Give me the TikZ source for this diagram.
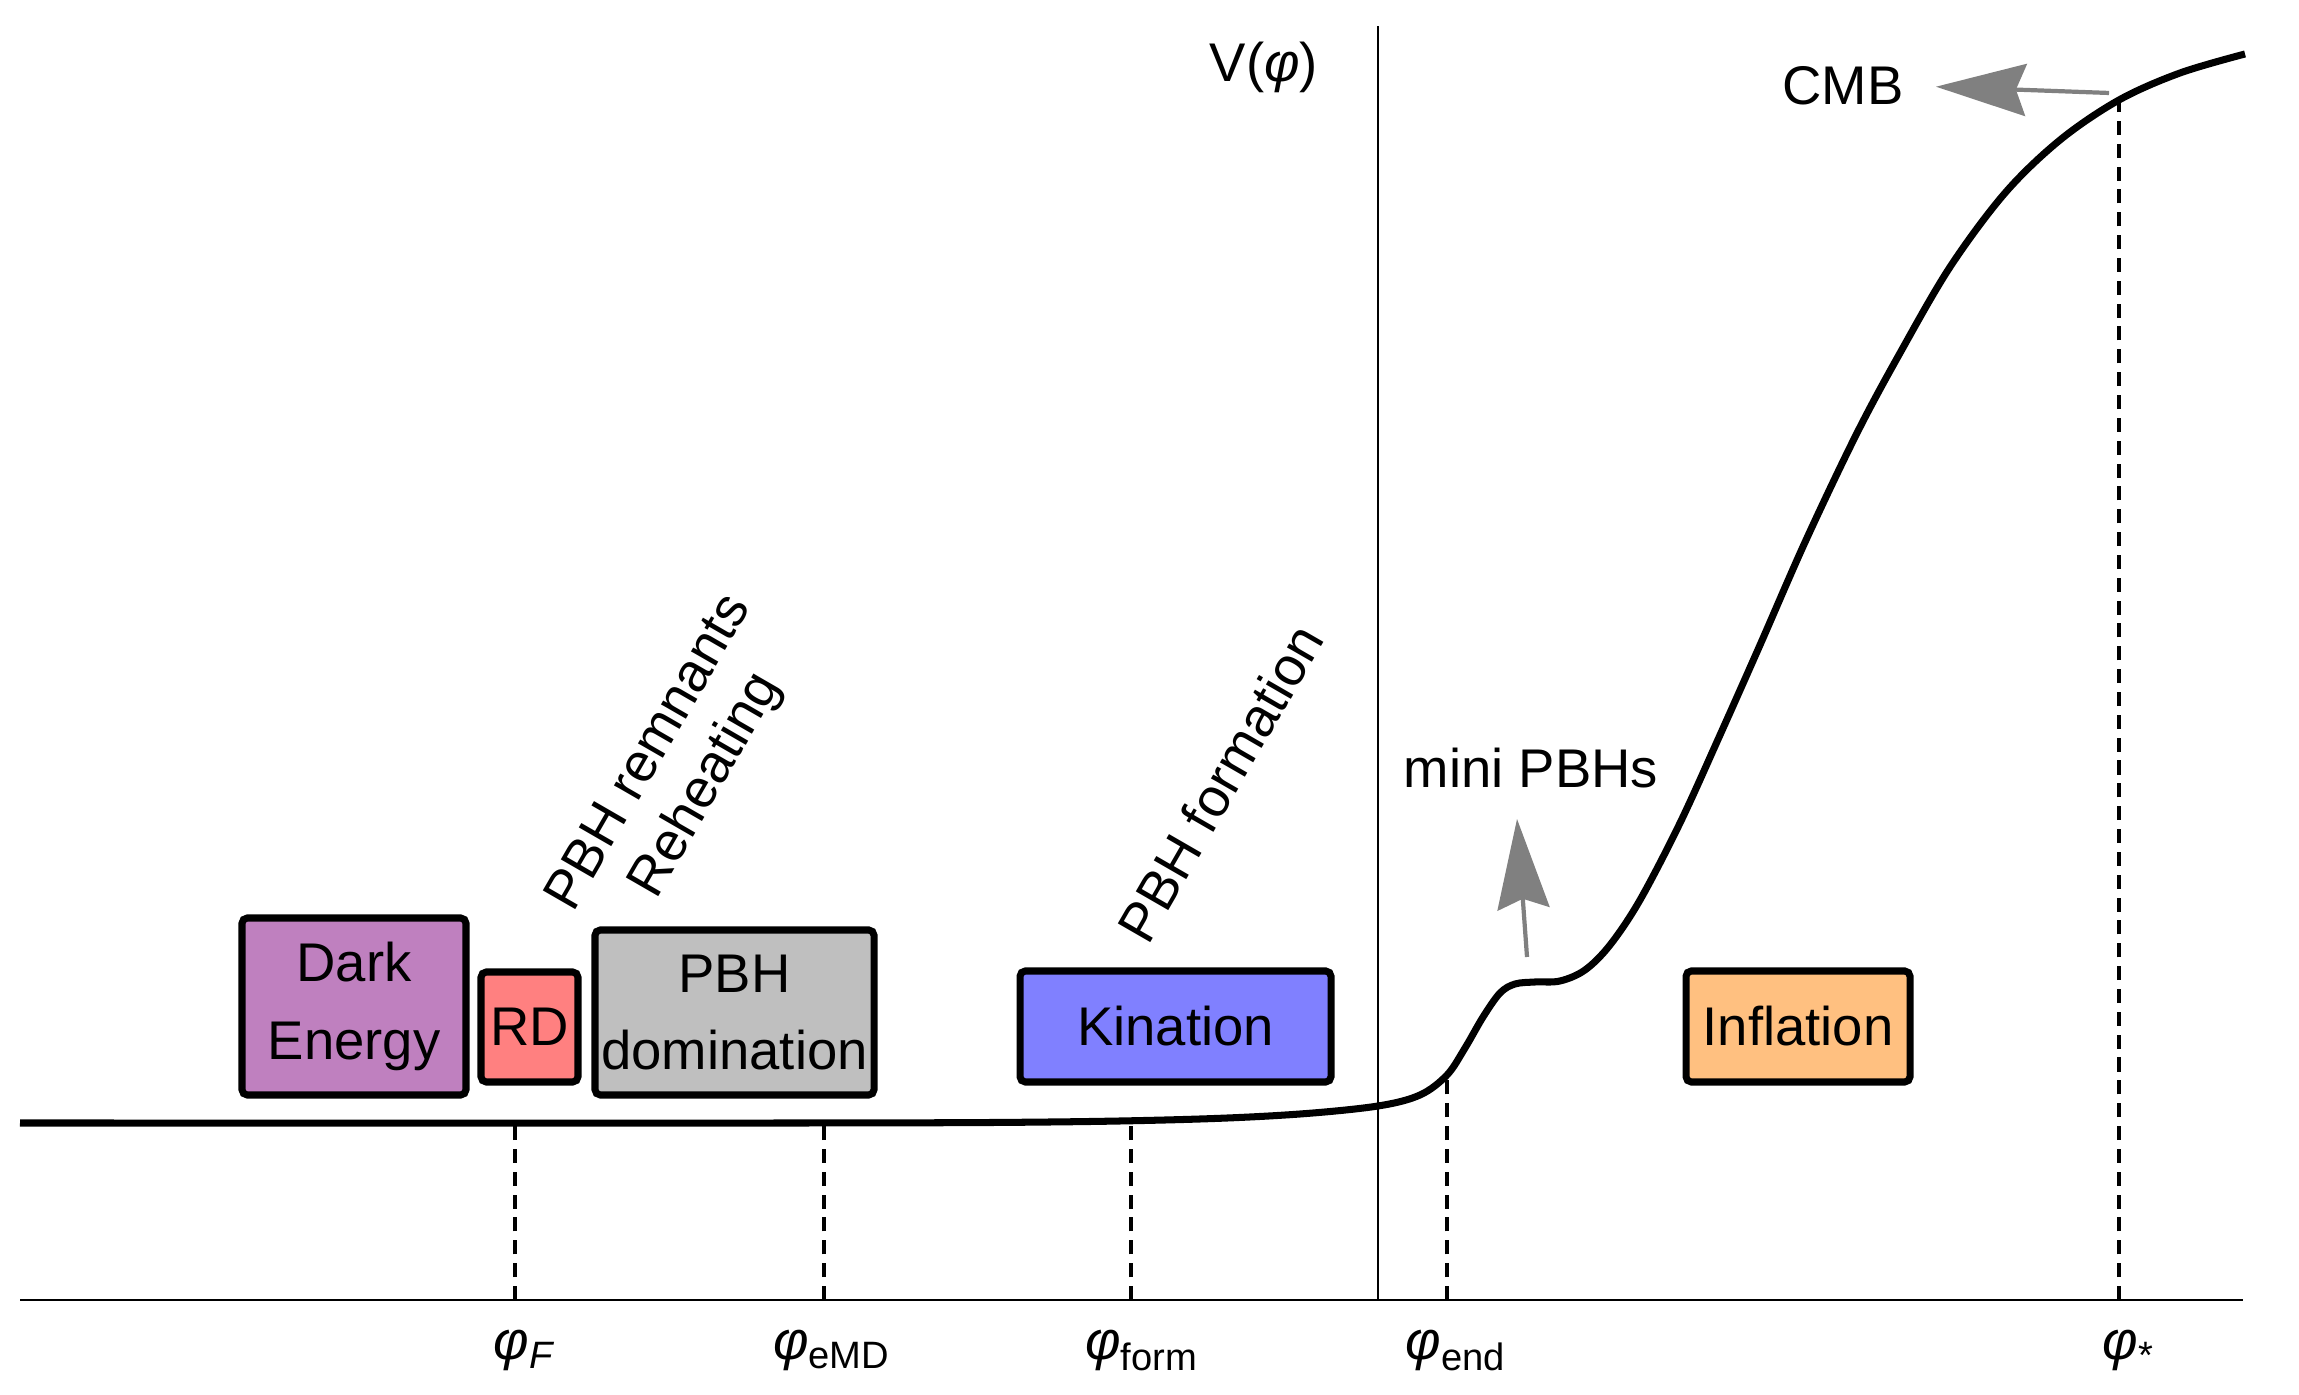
\documentclass[tikz,border=0pt]{standalone}
\usepackage{fontspec}
\setmainfont{Liberation Sans}
\usepackage{tikz}
\usetikzlibrary{arrows.meta}

\definecolor{darkenergy}{HTML}{BF80BF}
\definecolor{radiation}{HTML}{FF8080}
\definecolor{pbhdom}{HTML}{BFBFBF}
\definecolor{kination}{HTML}{8080FF}
\definecolor{inflation}{HTML}{FFC080}
\newcommand{\philab}[1]{\textit{φ}\textsubscript{#1}}

\begin{document}
\begin{tikzpicture}[font=\fontsize{15.5}{22}\selectfont]
\tikzstyle{phase} = [rectangle, draw, line width=2pt, rounded corners=1.5pt, align=center, inner sep=0pt]
\tikzstyle{potential} = [line width=2pt, line join=round]
\tikzstyle{marker} = [line width=0.9pt, dash pattern=on 4pt off 2.5pt]
\tikzstyle{pointer} = [line width=1.2pt, draw=gray, -{Stealth[length=0.9cm, width=0.52cm, inset=0.1cm, fill=gray]}]
\tikzstyle{tick} = [anchor=base, inner sep=0pt]
\tikzstyle{epoch} = [rotate=60, align=center, font=\fontsize{15.5}{18.5}\selectfont]

\useasboundingbox (0,0) rectangle (22.99,13.95);

\coordinate (axl) at (0.20,0.95);
\coordinate (axr) at (22.43,0.95);
\coordinate (axtop) at (13.78,13.69);
\coordinate (axbot) at (13.78,0.95);
\coordinate (phiF) at (5.15,2.72);
\coordinate (phiEMD) at (8.24,2.72);
\coordinate (phiForm) at (11.31,2.74);
\coordinate (phiEnd) at (14.47,3.20);
\coordinate (phiStar) at (21.19,12.95);
\coordinate (cmbfoot) at (21.09,13.02);
\coordinate (minifoot) at (15.27,4.38);
\coordinate (minitip) at (15.17,5.76);

\node[phase, fill=darkenergy, minimum width=2.24cm, minimum height=1.77cm] (de) at (3.54,3.885) {Dark\\Energy};
\node[phase, fill=radiation, minimum width=0.97cm, minimum height=1.10cm] (rd) at (5.295,3.68) {RD};
\node[phase, fill=pbhdom, minimum width=2.79cm, minimum height=1.65cm] (pbhdom) at (7.345,3.825) {PBH\\domination};
\node[phase, fill=kination, minimum width=3.11cm, minimum height=1.11cm] (kin) at (11.755,3.685) {Kination};
\node[phase, fill=inflation, minimum width=2.24cm, minimum height=1.11cm] (infl) at (17.98,3.685) {Inflation};

\node[epoch] (remnants) at (6.79,6.25) {PBH remnants\\Reheating};
\node[epoch] (formation) at (12.20,6.12) {PBH formation};
\node[anchor=base] (mini) at (15.31,6.07) {mini PBHs};
\node (cmb) at (18.43,13.09) {CMB};
\node (vphi) at (12.64,13.28) {V(\textit{φ})};

\node[tick] (lF) at (5.25,0.35) {\philab{\textit{F}}};
\node[tick] (lEMD) at (8.32,0.35) {\philab{eMD}};
\node[tick] (lForm) at (11.42,0.35) {\philab{form}};
\node[tick] (lEnd) at (14.56,0.35) {\philab{end}};
\node[tick] (lStar) at (21.29,0.35) {\philab{*}};

\draw[line width=0.6pt] (axl) -- (axr);
\draw[line width=0.8pt] (axbot) -- (axtop);

\draw[marker] (phiF |- axl) -- (phiF);
\draw[marker] (phiEMD |- axl) -- (phiEMD);
\draw[marker] (phiForm |- axl) -- (phiForm);
\draw[marker] (phiEnd |- axl) -- (phiEnd);
\draw[marker] (phiStar |- axl) -- (phiStar);

\draw[potential] plot[smooth, tension=0.55] coordinates {(0.20,2.72) (8,2.72) (10.5,2.73) (12,2.76) (13,2.81) (13.78,2.89) (14.2,3.0) (14.47,3.2) (14.65,3.47) (14.83,3.78) (15.0,4.02) (15.15,4.11) (15.35,4.13) (15.6,4.14) (15.85,4.25) (16.1,4.5) (16.4,4.95) (16.8,5.72) (17.2,6.6) (17.6,7.5) (18.06,8.55) (18.57,9.62) (19.0,10.42) (19.5,11.28) (20.05,12.02) (20.6,12.55) (21.19,12.95) (21.8,13.22) (22.45,13.41)};

\draw[pointer, shorten >=0.2cm] (cmbfoot) -- (cmb.east);
\draw[pointer] (minifoot) -- (minitip);
\end{tikzpicture}
\end{document}
